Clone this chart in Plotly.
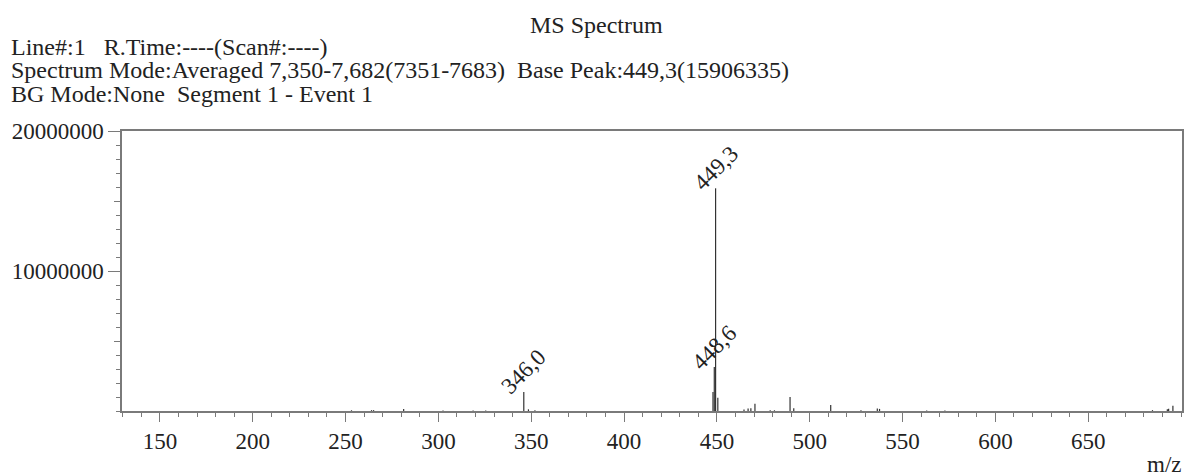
import plotly.graph_objects as go

# m/z values and intensities
mz = [253.2, 264.0, 265.1, 281.3, 302.5, 318.7, 325.5, 346.0, 348.5, 352.0,
      447.9, 448.6, 449.3, 450.5, 464.6, 466.8, 468.3, 470.5, 478.7, 481.0,
      489.4, 491.4, 511.3, 527.6, 536.4, 537.6, 563.0, 572.8, 684.6, 692.6,
      693.3, 695.6]
intensity = [50000, 60000, 60000, 150000, 40000, 40000, 40000, 1360000, 120000, 60000,
             1360000, 3140000, 15906335, 950000, 100000, 180000, 200000, 520000, 50000, 50000,
             1000000, 200000, 430000, 50000, 180000, 150000, 40000, 40000, 60000, 130000,
             160000, 380000]

label_mz = [346.0, 448.6, 449.3]
label_int = [1360000, 3140000, 15906335]
label_text = ["346,0", "448,6", "449,3"]

x_tickvals = [150, 200, 250, 300, 350, 400, 450, 500, 550, 600, 650]
y_tickvals = [10000000, 20000000]
y_ticktext = ["10000000", "20000000"]

header_title = "MS Spectrum"
header_lines = [
    "Line#:1\u00a0\u00a0\u00a0R.Time:----(Scan#:----)",
    "Spectrum Mode:Averaged 7,350-7,682(7351-7683)\u00a0\u00a0Base Peak:449,3(15906335)",
    "BG Mode:None\u00a0\u00a0Segment 1 - Event 1",
]

FONT = "Liberation Serif"
TXT = "#222222"
AX = "#7a7a7a"

W, H = 1187, 476
# plot area in screen pixels
SX0, SX1, SY0, SY1 = 122, 1184, 131, 410.7
L, R, T = SX0, W - SX1, SY0
B = H - SY1
pw, ph = W - L - R, H - T - B


def px(xs):
    return (xs - L) / pw


def py(ys):
    return (H - B - ys) / ph


sx, sy = [], []
for m, i in zip(mz, intensity):
    sx += [m, m, None]
    sy += [0, i, None]

fig = go.Figure()
fig.add_trace(go.Scatter(x=sx, y=sy, mode="lines",
                         line=dict(color="#333333", width=1.2),
                         hoverinfo="skip", showlegend=False))
# invisible trace for the overlay axis (medium ticks at 5M/15M)
fig.add_trace(go.Scatter(x=[None], y=[None], yaxis="y2", showlegend=False))

annotations = []
for m, i, t in zip(label_mz, label_int, label_text):
    annotations.append(dict(x=m, y=i, xref="x", yref="y", text=t, showarrow=False,
                            textangle=-45, xanchor="center", yanchor="middle",
                            yshift=20, font=dict(family=FONT, size=23, color=TXT)))

HF = 24
annotations.append(dict(x=px(597), y=py(25), xref="paper", yref="paper",
                        text=header_title, showarrow=False, xanchor="center",
                        yanchor="middle", font=dict(family=FONT, size=HF, color=TXT)))
for k, line in enumerate(header_lines):
    annotations.append(dict(x=px(9), y=py(47 + 23.5 * k), xref="paper", yref="paper",
                            text=line, showarrow=False, xanchor="left",
                            yanchor="middle", font=dict(family=FONT, size=HF, color=TXT)))
annotations.append(dict(x=px(1166), y=py(464), xref="paper", yref="paper",
                        text="m/z", showarrow=False, xanchor="center", yanchor="middle",
                        font=dict(family=FONT, size=23, color=TXT)))

fig.update_layout(
    width=W, height=H,
    margin=dict(l=L, r=R, t=T, b=B, pad=0),
    paper_bgcolor="white", plot_bgcolor="white",
    showlegend=False,
    annotations=annotations,
    xaxis=dict(range=[129.6, 700.5], tickvals=x_tickvals, ticks="outside", ticklen=9,
               tickwidth=1.2, tickcolor=AX, showline=True, linecolor=AX, linewidth=1.5,
               mirror=True, showgrid=False, zeroline=False,
               tickfont=dict(family=FONT, size=23, color=TXT),
               minor=dict(dtick=10, tick0=0, ticks="outside", ticklen=4, tickcolor=AX,
                          tickwidth=1.2, showgrid=False)),
    yaxis=dict(range=[0, 20000000], tickvals=y_tickvals, ticktext=y_ticktext,
               ticks="outside", ticklen=12, tickwidth=1.2, tickcolor=AX,
               showline=True, linecolor=AX, linewidth=1.5, mirror=True,
               showgrid=False, zeroline=False,
               tickfont=dict(family=FONT, size=23, color=TXT),
               minor=dict(dtick=1000000, tick0=0, ticks="outside", ticklen=4,
                          tickcolor=AX, tickwidth=1.2, showgrid=False)),
    yaxis2=dict(overlaying="y", range=[0, 20000000], tickvals=[5000000, 15000000],
                ticks="outside", ticklen=7, tickwidth=1.2, tickcolor=AX,
                showticklabels=False, showgrid=False, zeroline=False, showline=False,
                side="left"),
)

fig.write_html(
    "out.html",
    config={"displayModeBar": False},
    post_script="document.body.style.margin='0';document.body.style.overflow='hidden';",
)
